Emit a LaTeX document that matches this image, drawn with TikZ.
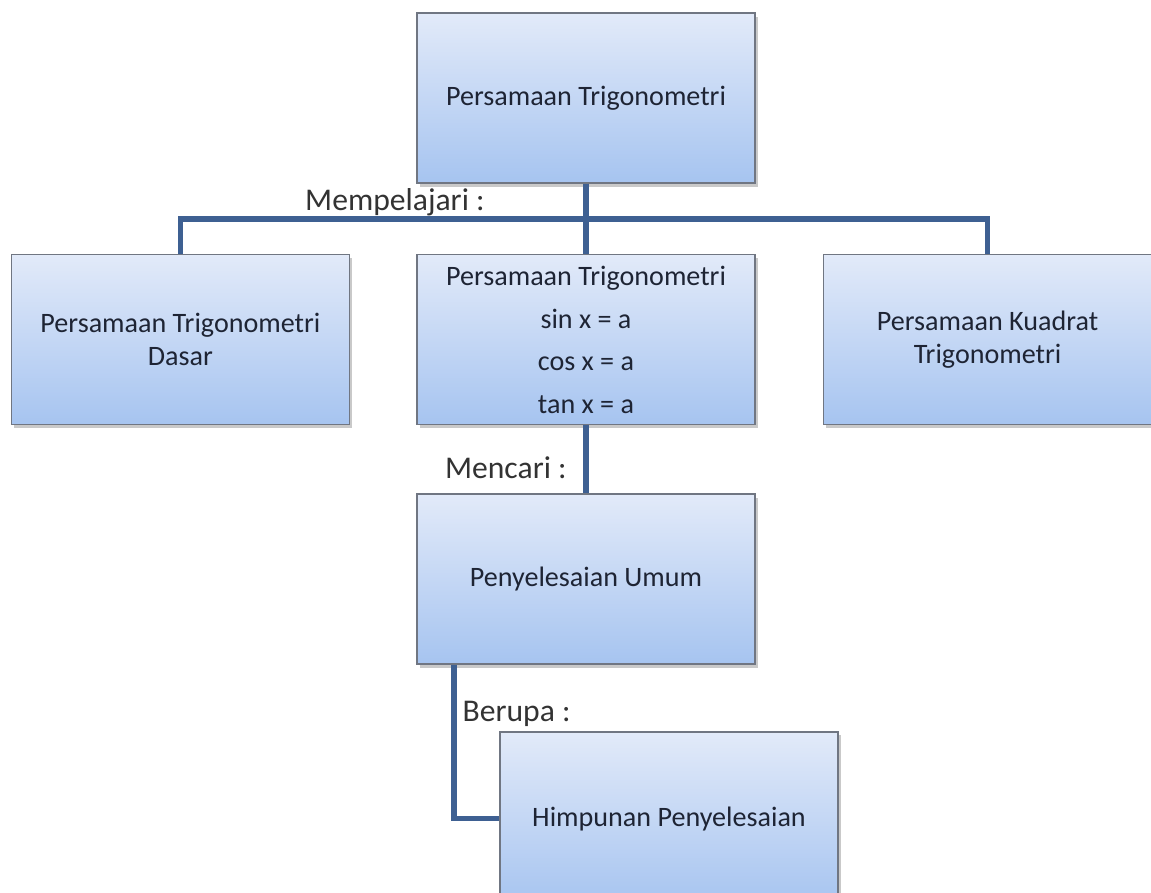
\documentclass[tikz,border=0pt]{standalone}
\usepackage{fontspec}
\setmainfont{Carlito}
\usepackage{xcolor}
\usepackage{tikz}
\usetikzlibrary{positioning,calc,shadows}

\definecolor{boxtop}{RGB}{226,234,249}
\definecolor{boxbot}{RGB}{166,196,240}
\definecolor{boxline}{RGB}{112,118,130}
\definecolor{connblue}{RGB}{62,96,146}
\definecolor{txtdark}{RGB}{30,36,52}

\begin{document}
\begin{tikzpicture}[
  box/.style={draw=boxline, line width=0.9pt, top color=boxtop, bottom color=boxbot,
    align=center, text=txtdark, minimum width=6.76cm, minimum height=3.4cm,
    font=\fontsize{16}{19}\selectfont,
    drop shadow={shadow xshift=0.05cm, shadow yshift=-0.07cm, opacity=.3, fill=black!70}},
  lbl/.style={font=\fontsize{18}{22}\selectfont, text=black!80, inner sep=0pt},
  conn/.style={line width=3.1pt, connblue},
  node distance=1.4cm,
]
  \useasboundingbox (0,0) rectangle (23.02,-17.86);

  % ---------------- top and second row ----------------
  \node[box] (top) at (11.72,-1.96) {Persamaan Trigonometri};
  \node[box, below=of top, font=\fontsize{16}{24}\selectfont] (mid)
    {Persamaan Trigonometri\\[0.3mm] sin x = a\\ cos x = a\\ tan x = a};
  \node[box, left=1.32cm of mid] (dasar) {Persamaan Trigonometri\\ Dasar};
  \node[box, right=1.34cm of mid, minimum width=6.56cm] (kuadrat)
    {Persamaan Kuadrat\\ Trigonometri};

  % ---------------- lower chain ----------------
  \node[box, below=1.36cm of mid] (umum) {Penyelesaian Umum};
  \node[box, below=1.32cm of umum, xshift=1.66cm, minimum height=3.48cm] (himp)
    {Himpunan Penyelesaian};

  % connectors
  \coordinate (bar) at ($(top.south)!0.5!(mid.north)$);
  \coordinate (drop) at ([xshift=0.76cm]umum.south west);
  \draw[conn] (top) -- (mid);
  \draw[conn] (dasar.north) |- (bar) -| (kuadrat.north);
  \draw[conn] (mid) -- (umum);
  \draw[conn] (drop) |- (himp.west);

  % labels on the connectors
  \node[lbl, anchor=south east] (mplj) at ($(bar)+(-2.02,0.06)$) {Mempelajari :};
  \node[lbl, anchor=east] (mcr) at ($(mid.south)!0.5!(umum.north)+(-0.38,-0.16)$) {Mencari :};
  \node[lbl, anchor=west] (brp) at ($(drop)+(0.16,-0.98)$) {Berupa :};
\end{tikzpicture}
\end{document}
